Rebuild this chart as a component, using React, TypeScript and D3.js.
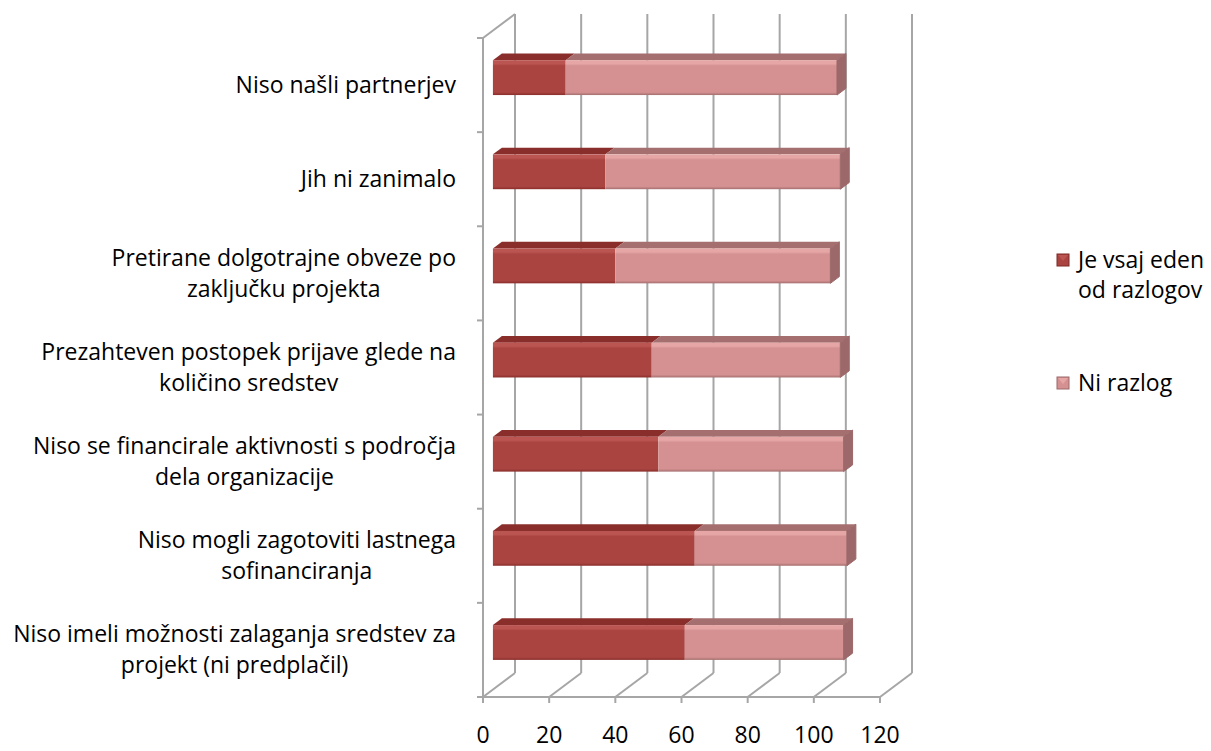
import React from "react";
import * as d3 from "d3";

// ---------- data ----------
const categories = [
  "Niso našli partnerjev",
  "Jih ni zanimalo",
  "Pretirane dolgotrajne obveze po zaključku projekta",
  "Prezahteven postopek prijave glede na količino sredstev",
  "Niso se financirale aktivnosti s področja dela organizacije",
  "Niso mogli zagotoviti lastnega sofinanciranja",
  "Niso imeli možnosti zalaganja sredstev za projekt (ni predplačil)",
];
const categoryLines = [
  ["Niso našli partnerjev"],
  ["Jih ni zanimalo"],
  ["Pretirane dolgotrajne obveze po", "zaključku projekta"],
  ["Prezahteven postopek prijave glede na", "količino sredstev"],
  ["Niso se financirale aktivnosti s področja", "dela organizacije"],
  ["Niso mogli zagotoviti lastnega", "sofinanciranja"],
  ["Niso imeli možnosti zalaganja sredstev za", "projekt (ni predplačil)"],
];
const seriesNames = ["Je vsaj eden od razlogov", "Ni razlog"];
const legendLines = [["Je vsaj eden", "od razlogov"], ["Ni razlog"]];
const jeVsajEden = [22, 34, 37, 48, 50, 61, 58];
const niRazlog = [82, 71, 65, 57, 56, 46, 48];
const xTicks = [0, 20, 40, 60, 80, 100, 120];

// ---------- layout / style ----------
const W = 1211;
const H = 751;
const LEFT = 483;
const RIGHT = 880;
const TOP = 38;
const BOTTOM = 697;
const DX = 32;
const DY = -24;
const D0 = 0.31;
const D1 = 0.59;
const FONT = "'Open Sans', 'Noto Sans', sans-serif";
const FS = 23;
const GRID = "#A6A6A6";
const colors = [
  { front: "#AA4441", top: "#8A2E2B", side: "#7E2B29", hi: "#BA5552" },
  { front: "#D59191", top: "#A56F70", side: "#9C6869", hi: "#E6A6A6" },
];

function measure(text: string): number {
  const c = document.createElement("canvas").getContext("2d");
  if (!c) return text.length * FS * 0.5;
  c.font = `${FS}px 'Open Sans'`;
  return c.measureText(text).width;
}

export default function App() {
  const x = d3.scaleLinear().domain([0, 120]).range([LEFT, RIGHT]);
  const y = d3
    .scaleBand<string>()
    .domain(categories)
    .range([TOP, BOTTOM])
    .paddingInner(0.63)
    .paddingOuter(0.315);
  const step = y.step();
  const bh = y.bandwidth();

  const rows = categories.map((c, i) => ({ cat: c, a: jeVsajEden[i], b: niRazlog[i] }));
  const stack = d3.stack<any>().keys(["a", "b"])(rows);

  const fdx = D0 * DX;
  const fdy = D0 * DY;
  const tdx = (D1 - D0) * DX;
  const tdy = (D1 - D0) * DY;

  const boundaries = d3.range(categories.length + 1).map((i) => TOP + i * step);

  return (
    <svg width={W} height={H} style={{ position: "absolute", left: 0, top: 0, background: "#fff" }}>
      <defs>
        {colors.map((c, i) => (
          <linearGradient key={i} id={`fg${i}`} x1="0" y1="0" x2="0" y2="1">
            <stop offset="0" stopColor={c.hi} />
            <stop offset="0.1" stopColor={c.hi} />
            <stop offset="0.16" stopColor={c.front} />
            <stop offset="0.92" stopColor={c.front} />
            <stop offset="1" stopColor={c.top} />
          </linearGradient>
        ))}
      </defs>

      {/* back wall vertical grid */}
      {xTicks.map((t) => (
        <line key={`bv${t}`} x1={x(t) + DX} x2={x(t) + DX} y1={TOP + DY} y2={BOTTOM + DY} stroke={GRID} strokeWidth={2} />
      ))}
      {/* floor diagonals */}
      {xTicks.map((t) => (
        <line key={`fd${t}`} x1={x(t)} x2={x(t) + DX} y1={BOTTOM} y2={BOTTOM + DY} stroke={GRID} strokeWidth={2} />
      ))}
      {/* floor front line */}
      <line x1={LEFT - 6} x2={RIGHT} y1={BOTTOM} y2={BOTTOM} stroke={GRID} strokeWidth={2} />
      {xTicks.map((t) => (
        <line key={`ft${t}`} x1={x(t)} x2={x(t)} y1={BOTTOM} y2={BOTTOM + 6} stroke={GRID} strokeWidth={2} />
      ))}
      {/* left wall */}
      <line x1={LEFT} x2={LEFT} y1={TOP} y2={BOTTOM + 6} stroke={GRID} strokeWidth={2} />
      <line x1={LEFT} x2={LEFT + DX} y1={TOP} y2={TOP + DY} stroke={GRID} strokeWidth={2} />
      {boundaries.map((b, i) => (
        <line key={`ct${i}`} x1={LEFT - 6} x2={LEFT} y1={b} y2={b} stroke={GRID} strokeWidth={2} />
      ))}

      {/* bars */}
      {stack.map((s, si) =>
        s.map((d, ci) => {
          const cat = categories[ci];
          const x0 = x(d[0]) + fdx;
          const x1 = x(d[1]) + fdx;
          const yt = (y(cat) as number) + fdy;
          const yb = yt + bh;
          const c = colors[si];
          const isLast = si === stack.length - 1;
          return (
            <g key={`b${si}-${ci}`}>
              <polygon
                points={`${x0},${yt} ${x1},${yt} ${x1 + tdx},${yt + tdy} ${x0 + tdx},${yt + tdy}`}
                fill={c.top}
              />
              <rect x={x0} y={yt} width={x1 - x0} height={bh} fill={`url(#fg${si})`} />
              {isLast && (
                <polygon
                  points={`${x1},${yt} ${x1 + tdx},${yt + tdy} ${x1 + tdx},${yb + tdy} ${x1},${yb}`}
                  fill={c.side}
                  stroke={c.side}
                  strokeWidth={1}
                  strokeLinejoin="round"
                />
              )}
            </g>
          );
        })
      )}

      {/* x tick labels */}
      {xTicks.map((t) => (
        <text key={`xl${t}`} x={x(t)} y={743} textAnchor="middle" fontFamily={FONT} fontSize={FS} fill="#000">
          {t}
        </text>
      ))}

      {/* category labels */}
      {categoryLines.map((lines, ci) => {
        const cy = (y(categories[ci]) as number) + bh / 2;
        const maxW = Math.max(...lines.map(measure));
        const cx = 456 - maxW / 2;
        const lh = 31;
        return (
          <g key={`cl${ci}`}>
            {lines.map((ln, li) => (
              <text
                key={li}
                x={cx}
                y={cy + (li - (lines.length - 1) / 2) * lh + 8}
                textAnchor="middle"
                fontFamily={FONT}
                fontSize={FS}
                fill="#000"
              >
                {ln}
              </text>
            ))}
          </g>
        );
      })}

      {/* legend */}
      {seriesNames.map((name, si) => {
        const ly = si === 0 ? 260 : 383;
        const lines = legendLines[si];
        const c = colors[si];
        const ms = 12;
        const mx = 1057;
        const my = ly - ms / 2;
        return (
          <g key={`lg${si}`}>
            <rect x={mx} y={my} width={ms} height={ms} fill={c.front} stroke={c.side} strokeWidth={1} />
            <polygon points={`${mx + 1},${my + 1} ${mx + ms - 1},${my + 1} ${mx + ms / 2},${my + ms / 2 + 1}`} fill={c.hi} />
            {lines.map((ln, li) => (
              <text key={li} x={1078} y={ly + 8 + li * 30} fontFamily={FONT} fontSize={FS} fill="#000">
                {ln}
              </text>
            ))}
          </g>
        );
      })}
    </svg>
  );
}
